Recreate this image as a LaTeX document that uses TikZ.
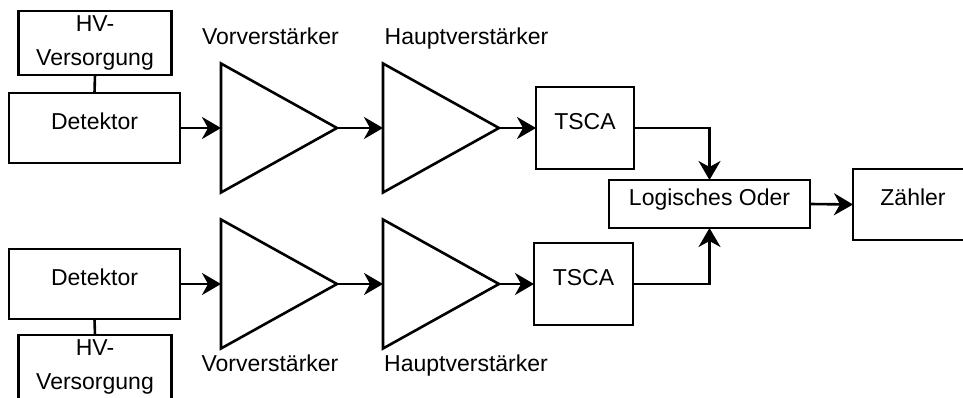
\documentclass[tikz,border=0pt]{standalone}
\usepackage{fontspec}
\setmainfont{Liberation Sans}
\usetikzlibrary{shapes.geometric,arrows.meta}
\begin{document}
\begin{tikzpicture}[x=1pt,y=-1pt,
  every node/.style={font=\fontsize{23}{34}\selectfont, inner sep=0pt, outer sep=0pt},
  blk/.style={draw, line width=2.6pt, text height=0.75em, text depth=0.47em},
  hvbox/.style={draw, line width=2.6pt, align=center, minimum width=153pt, minimum height=64pt},
  amp/.style={draw, line width=2.6pt, isosceles triangle, isosceles triangle stretches,
              shape border rotate=0, minimum width=129pt, minimum height=116pt, anchor=lower side},
  lbl/.style={anchor=base},
  conn/.style={line width=2.6pt},
  arr/.style={line width=2.6pt, -{Stealth[length=19pt, width=22pt, inset=6pt]}}]
\useasboundingbox (0,0) rectangle (963,398);

% top chain
\node[hvbox] (hv1) at (95,43) {HV-\\Versorgung};
\node[blk, minimum width=171pt, minimum height=70pt] (det1) at (94.5,128) {Detektor};
\node[amp] (va1) at (221,128) {};
\node[amp] (ha1) at (383,128) {};
\node[blk, minimum width=98pt, minimum height=82pt] (ts1) at (585,128) {TSCA};
\node[lbl] (lva1) at (270.5,45) {Vorverstärker};
\node[lbl] (lha1) at (466.5,45) {Hauptverstärker};

% bottom chain
\node[hvbox] (hv2) at (95,367) {HV-\\Versorgung};
\node[blk, minimum width=171pt, minimum height=70pt] (det2) at (94.5,284) {Detektor};
\node[amp] (va2) at (221,284) {};
\node[amp] (ha2) at (383,284) {};
\node[blk, minimum width=99pt, minimum height=82pt] (ts2) at (583.5,284) {TSCA};
\node[lbl] (lva2) at (270,371) {Vorverstärker};
\node[lbl] (lha2) at (466,371) {Hauptverstärker};

% right part
\node[blk, minimum width=201pt, minimum height=48pt] (or) at (709.5,204) {Logisches Oder};
\node[blk, minimum width=120pt, minimum height=71pt] (cnt) at (913,204.5) {Zähler};

% connectors
\draw[conn] (hv1.south) -- (det1.north);
\draw[conn] (det2.south) -- (hv2.north);
\draw[arr] (det1.east) -- (va1.lower side);
\draw[arr] (va1.apex) -- (ha1.lower side);
\draw[arr] (ha1.apex) -- (ts1.west);
\draw[arr] (ts1.east) -| (or.north);
\draw[arr] (det2.east) -- (va2.lower side);
\draw[arr] (va2.apex) -- (ha2.lower side);
\draw[arr] (ha2.apex) -- (ts2.west);
\draw[arr] (ts2.east) -| (or.south);
\draw[arr] (or.east) -- (cnt.west);
\end{tikzpicture}
\end{document}
